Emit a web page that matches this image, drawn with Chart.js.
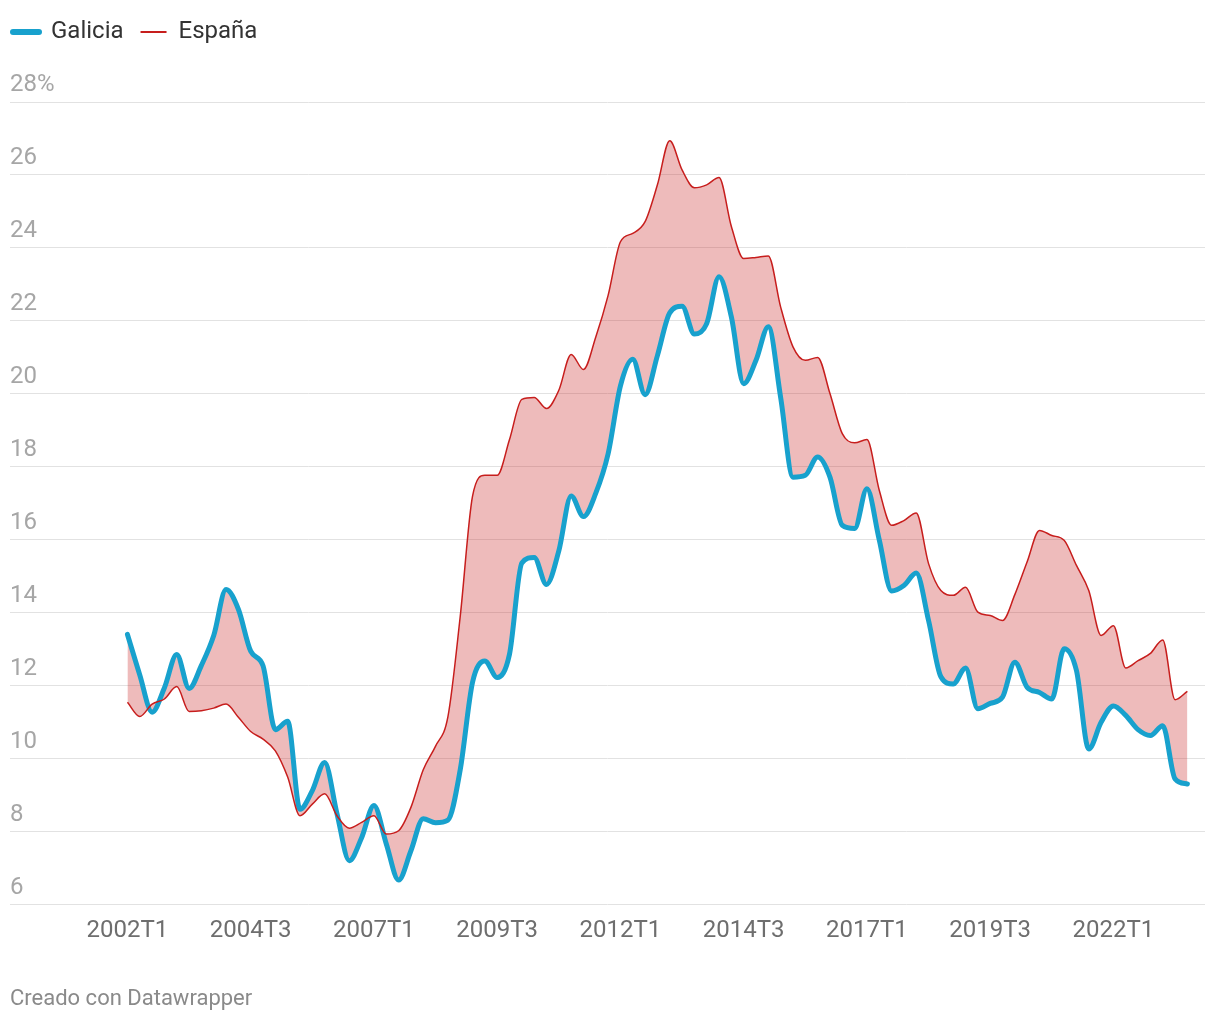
<!DOCTYPE html>
<html>
<head>
<meta charset="utf-8">
<script src="https://cdn.jsdelivr.net/npm/chart.js@4.4.1/dist/chart.umd.min.js"></script>
<style>
html,body{margin:0;padding:0;background:#fff;}
#wrap{width:1220px;height:1020px;}
</style>
</head>
<body>
<div id="wrap"><canvas id="c" width="1220" height="1020"></canvas></div>
<script>
const quarters = [
  '2002T1','2002T2','2002T3','2002T4','2003T1','2003T2','2003T3','2003T4',
  '2004T1','2004T2','2004T3','2004T4','2005T1','2005T2','2005T3','2005T4',
  '2006T1','2006T2','2006T3','2006T4','2007T1','2007T2','2007T3','2007T4',
  '2008T1','2008T2','2008T3','2008T4','2009T1','2009T2','2009T3','2009T4',
  '2010T1','2010T2','2010T3','2010T4','2011T1','2011T2','2011T3','2011T4',
  '2012T1','2012T2','2012T3','2012T4','2013T1','2013T2','2013T3','2013T4',
  '2014T1','2014T2','2014T3','2014T4','2015T1','2015T2','2015T3','2015T4',
  '2016T1','2016T2','2016T3','2016T4','2017T1','2017T2','2017T3','2017T4',
  '2018T1','2018T2','2018T3','2018T4','2019T1','2019T2','2019T3','2019T4',
  '2020T1','2020T2','2020T3','2020T4','2021T1','2021T2','2021T3','2021T4',
  '2022T1','2022T2','2022T3','2022T4','2023T1','2023T2','2023T3'
];

const galicia = [
  13.41, 12.3, 11.28, 11.95, 12.86, 11.93, 12.56, 13.38,
  14.64, 14.1, 12.95, 12.55, 10.8, 11.03, 8.62, 9.13,
  9.9, 8.5, 7.21, 7.84, 8.72, 7.67, 6.68, 7.48,
  8.36, 8.25, 8.32, 9.7, 12.1, 12.68, 12.23, 12.87,
  15.37, 15.52, 14.78, 15.7, 17.2, 16.64, 17.28, 18.36,
  20.22, 20.95, 19.98, 21.05, 22.22, 22.4, 21.64, 21.93,
  23.21, 22.11, 20.28, 20.92, 21.84, 19.9, 17.72, 17.77,
  18.27, 17.72, 16.4, 16.31, 17.4, 16.0, 14.6, 14.75,
  15.09, 13.79, 12.25, 12.05, 12.49, 11.37, 11.52, 11.69,
  12.65, 11.96, 11.82, 11.64, 13.02, 12.42, 10.27, 11.0,
  11.45, 11.19, 10.8, 10.64, 10.91, 9.45, 9.31
];

const espana = [
  11.55, 11.16, 11.5, 11.64, 11.98, 11.3, 11.32, 11.39,
  11.5, 11.14, 10.75, 10.54, 10.22, 9.5, 8.44, 8.76,
  9.04, 8.44, 8.1, 8.26, 8.44, 7.94, 8.03, 8.67,
  9.7, 10.35, 11.15, 13.9, 17.2, 17.77, 17.77, 18.75,
  19.85, 19.9, 19.6, 20.1, 21.08, 20.67, 21.56, 22.7,
  24.17, 24.4, 24.72, 25.73, 26.94, 26.14, 25.65, 25.73,
  25.93, 24.59, 23.71, 23.74, 23.78, 22.38, 21.29, 20.92,
  21.0, 20.01, 18.91, 18.66, 18.75, 17.36, 16.4, 16.53,
  16.74, 15.35, 14.61, 14.48, 14.7, 14.02, 13.93, 13.79,
  14.5, 15.4, 16.26, 16.12, 15.99, 15.3, 14.61, 13.38,
  13.65, 12.49, 12.69, 12.89, 13.26, 11.62, 11.85
];

const xTickIndices = [0, 10, 20, 30, 40, 50, 60, 70, 80];
const yTickValues = [6, 8, 10, 12, 14, 16, 18, 20, 22, 24, 26, 28];

Chart.defaults.font.family = 'Roboto, "Noto Sans", sans-serif';

const fillColor = 'rgba(199,30,29,0.3)';

new Chart(document.getElementById('c'), {
  type: 'line',
  data: {
    datasets: [
      {
        label: 'Galicia',
        data: galicia.map((v, i) => ({x: i, y: v})),
        borderColor: '#18a1cd',
        borderWidth: 5,
        pointRadius: 0,
        tension: 0.4,
        cubicInterpolationMode: 'monotone',
        borderCapStyle: 'round',
        borderJoinStyle: 'round',
        fill: false,
        order: 1
      },
      {
        label: 'España',
        data: espana.map((v, i) => ({x: i, y: v})),
        borderColor: '#c71e1d',
        borderWidth: 1.5,
        pointRadius: 0,
        tension: 0.4,
        cubicInterpolationMode: 'monotone',
        fill: {target: 0, above: fillColor, below: fillColor},
        backgroundColor: fillColor,
        order: 0
      }
    ]
  },
  options: {
    responsive: false,
    animation: false,
    devicePixelRatio: 1,
    layout: {padding: {top: 3, left: -4, right: 15, bottom: 0}},
    plugins: {
      filler: {drawTime: 'beforeDatasetsDraw'},
      tooltip: {enabled: false},
      legend: {
        position: 'top',
        align: 'start',
        weight: 3000,
        labels: {
          usePointStyle: true,
          pointStyleWidth: 26,
          padding: 17,
          color: '#333333',
          font: {size: 24},
          generateLabels: (chart) => chart.data.datasets.map((ds, i) => ({
            text: ds.label,
            fillStyle: ds.borderColor,
            strokeStyle: ds.borderColor,
            lineWidth: i === 0 ? 6 : 2,
            lineCap: i === 0 ? 'round' : 'butt',
            pointStyle: 'line',
            hidden: false,
            datasetIndex: i,
            fontColor: '#333333'
          }))
        }
      },
      title: {
        display: true,
        text: '',
        padding: {top: 36, bottom: 0},
        font: {size: 10}
      }
    },
    scales: {
      x: {
        type: 'linear',
        min: -9.53,
        max: 87.43,
        grid: {display: false, drawTicks: false},
        border: {display: false},
        afterBuildTicks: (s) => { s.ticks = xTickIndices.map(v => ({value: v})); },
        ticks: {
          autoSkip: false,
          maxRotation: 0,
          padding: 12,
          color: '#6e6e6e',
          font: {size: 24},
          callback: (v) => quarters[v] !== undefined ? quarters[v] : ''
        },
        title: {
          display: true,
          text: 'Creado con Datawrapper',
          align: 'start',
          color: '#8a8a8a',
          font: {size: 22},
          padding: {top: 29, bottom: 7}
        }
      },
      y: {
        min: 6,
        max: 28,
        afterBuildTicks: (s) => { s.ticks = yTickValues.map(v => ({value: v})); },
        afterFit: (s) => { s.width = 14; },
        grid: {color: '#e2e2e2', lineWidth: 1, drawTicks: false},
        border: {display: false},
        ticks: {
          mirror: true,
          padding: 0,
          labelOffset: -17,
          color: '#a6a6a6',
          font: {size: 24},
          callback: (v) => v === 28 ? '28%' : String(v)
        }
      }
    }
  }
});
</script>
</body>
</html>
